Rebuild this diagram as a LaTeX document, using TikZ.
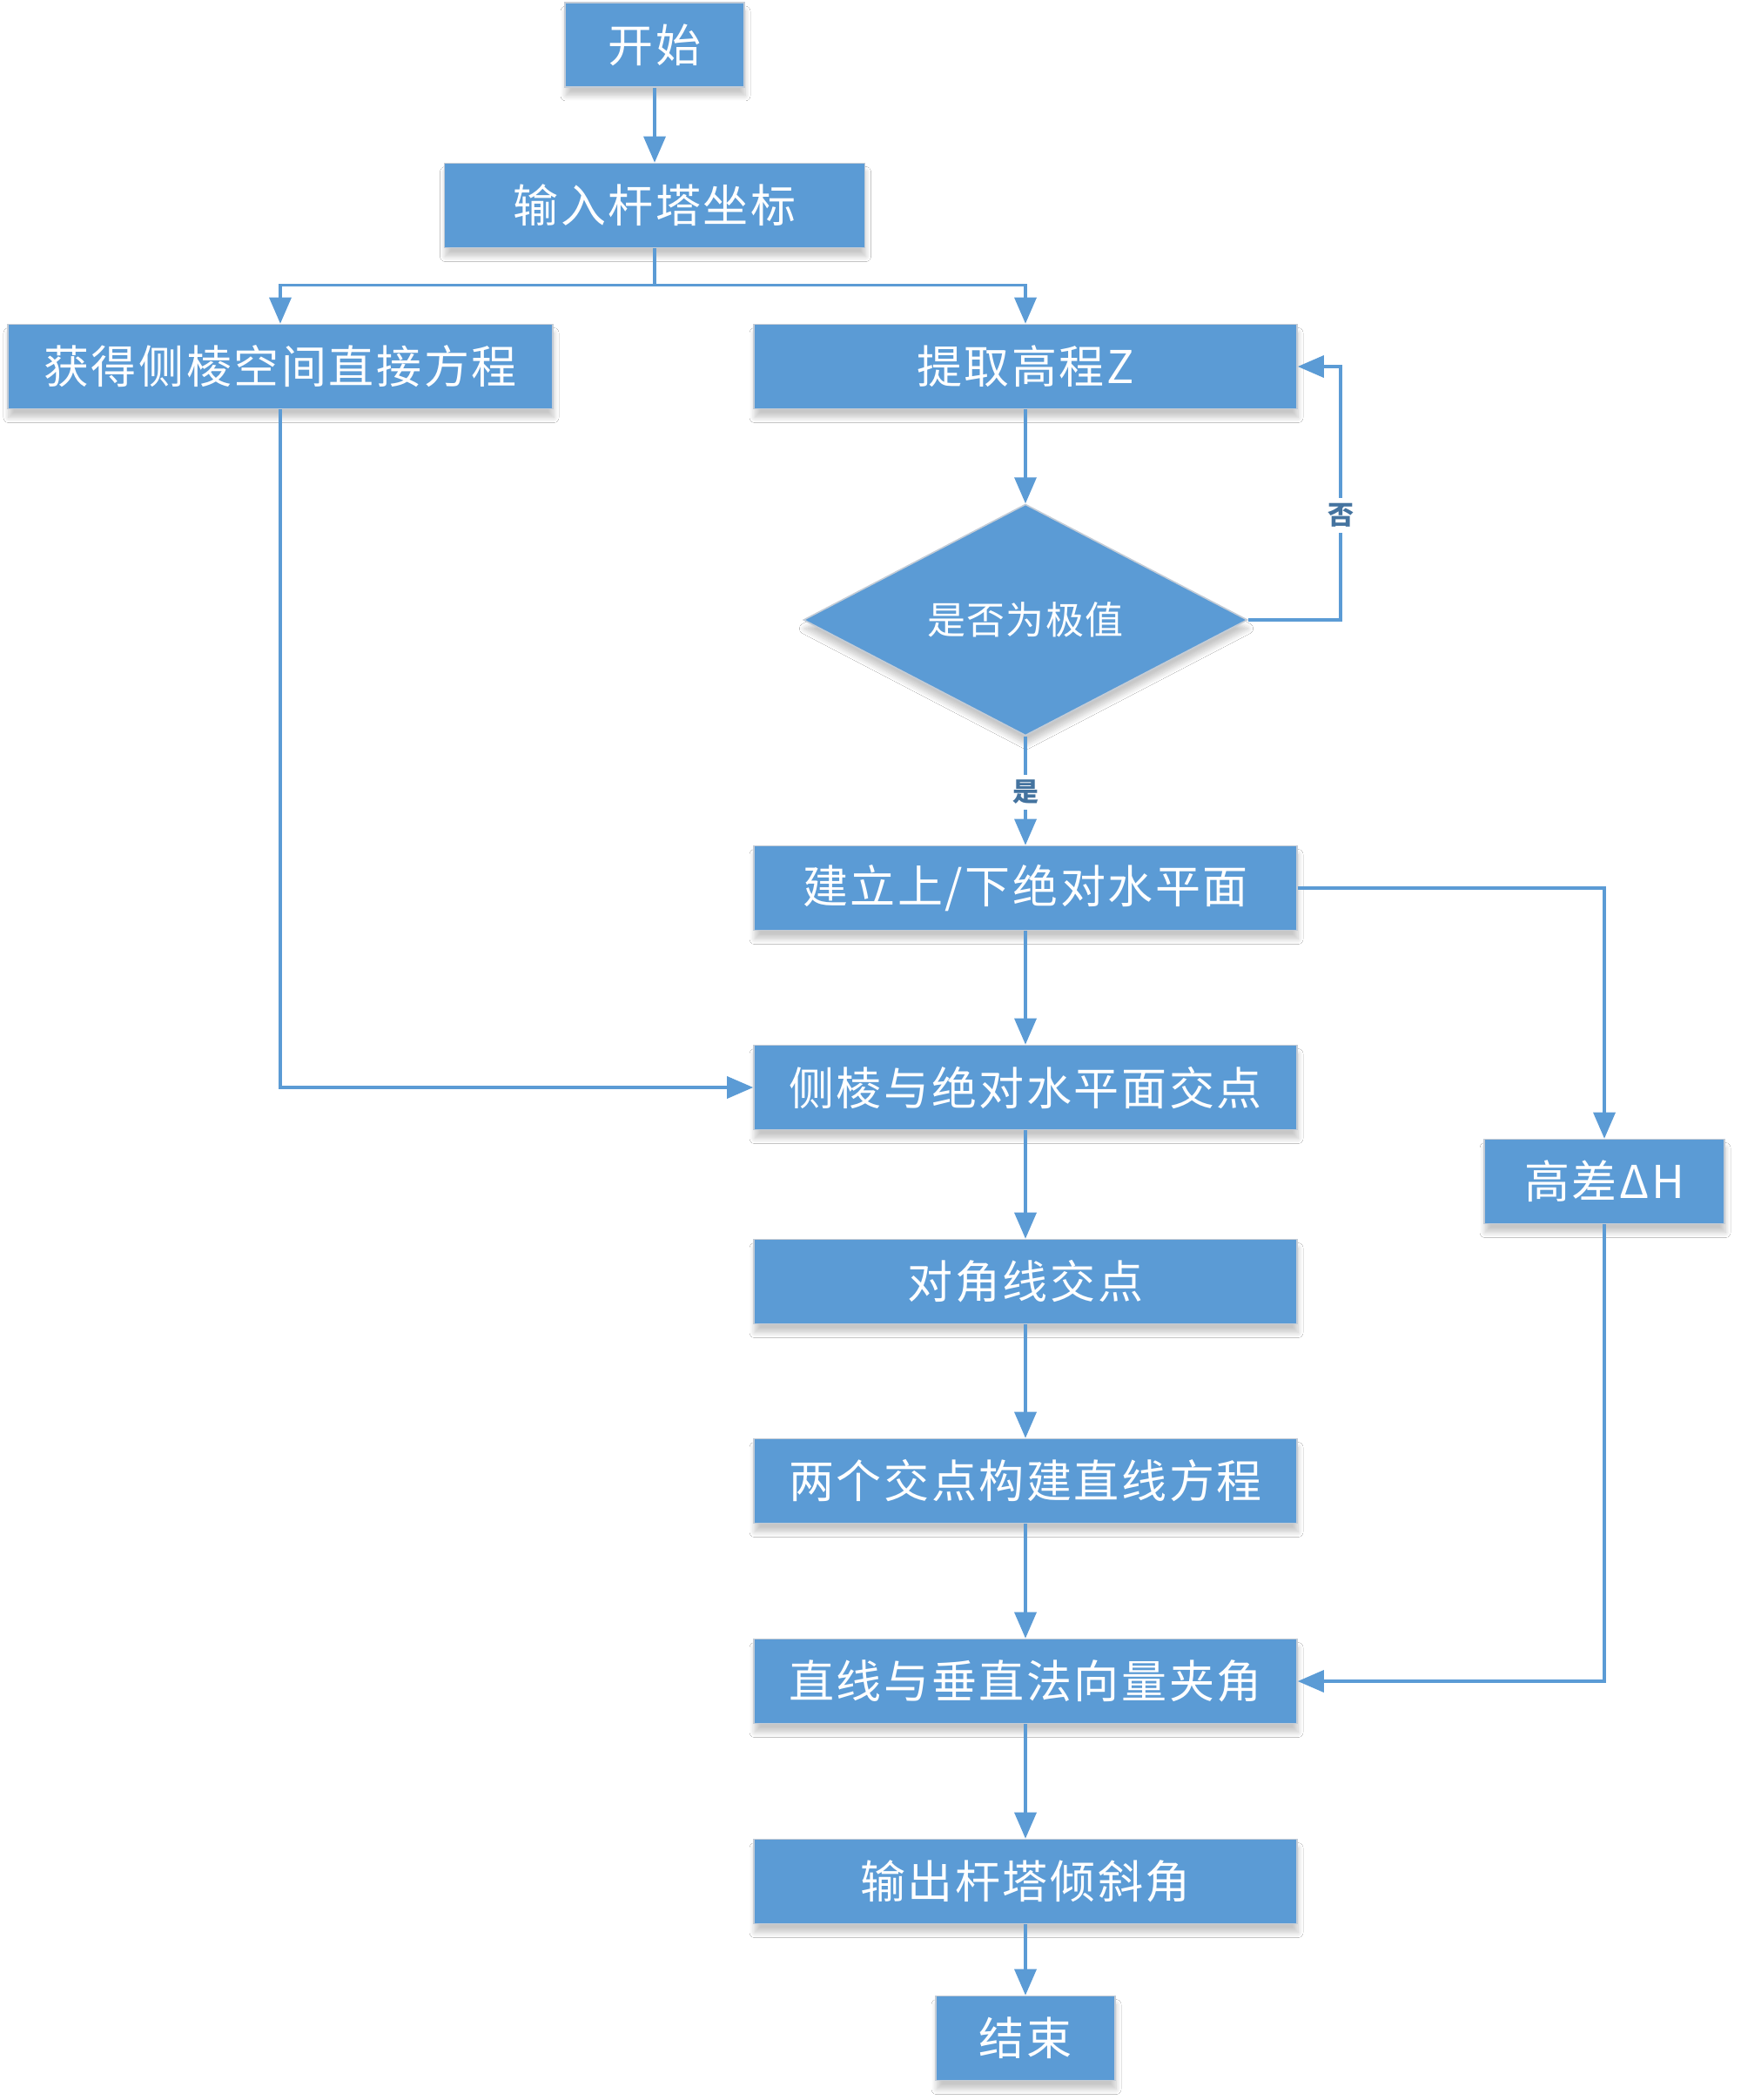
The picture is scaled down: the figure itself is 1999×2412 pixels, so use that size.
\documentclass[tikz,border=0pt]{standalone}
\usepackage{fontspec}
\setmainfont{Noto Sans CJK SC}
\usetikzlibrary{arrows.meta,shapes.geometric,shadows.blur}
\definecolor{boxblue}{HTML}{5B9BD5}
\definecolor{labblue}{HTML}{44739F}
\definecolor{boxedge}{HTML}{C4CCD6}
\begin{document}
\begin{tikzpicture}[x=0.5pt,y=-0.5pt,
  boxshadow/.style={blur shadow={shadow xshift=0.5pt,shadow yshift=-5pt,shadow blur steps=8,shadow opacity=22,shadow blur radius=3pt}},
  procbox/.style={rectangle,fill=boxblue,draw=boxedge,line width=0.8pt,text=white,inner sep=0pt,
    minimum height=48.5pt,font=\fontsize{26}{30}\selectfont\addfontfeature{LetterSpace=5},boxshadow},
  decbox/.style={diamond,fill=boxblue,draw=boxedge,line width=0.8pt,text=white,inner sep=0pt,
    minimum width=255pt,minimum height=132pt,font=\fontsize{22}{26}\selectfont\addfontfeature{LetterSpace=3},boxshadow},
  arr/.style={draw=boxblue,line width=1.7pt,-{Triangle[length=15pt,width=12.5pt]}},
  ln/.style={draw=boxblue,line width=1.7pt},
  lab/.style={fill=white,text=labblue,inner sep=3pt,font=\fontsize{15}{18}\selectfont\bfseries}
]
\useasboundingbox (0,0) rectangle (1999,2412);
\fill[white] (0,0) rectangle (1999,2412);

\node[procbox,minimum width=103pt] (start) at (752,51.5) {开始};
\node[procbox,minimum width=241.5pt] (input) at (752,236) {输入杆塔坐标};
\node[procbox,minimum width=313pt] (side) at (322,421) {获得侧棱空间直接方程};
\node[procbox,minimum width=312pt] (ext) at (1178,421) {提取高程Z};
\node[decbox] (dec) at (1178,712) {是否为极值};
\node[procbox,minimum width=312pt] (plane) at (1178,1020) {建立上/下绝对水平面};
\node[procbox,minimum width=312pt] (inter) at (1178,1249) {侧棱与绝对水平面交点};
\node[procbox,minimum width=312pt] (diag) at (1178,1472) {对角线交点};
\node[procbox,minimum width=312pt] (twoline) at (1178,1701) {两个交点构建直线方程};
\node[procbox,minimum width=312pt] (angle) at (1178,1931) {直线与垂直法向量夹角};
\node[procbox,minimum width=312pt] (out) at (1178,2161) {输出杆塔倾斜角};
\node[procbox,minimum width=103pt] (end) at (1178,2341) {结束};
\node[procbox,minimum width=138pt] (dh) at (1843,1357) {高差ΔH};

\coordinate (br) at (752,327.5);
\coordinate (loopx) at (1540,712);

\draw[arr] (start) -- (input);
\draw[ln] (input.south) -- (br);
\draw[arr] (br) -| (side.north);
\draw[arr] (br) -| (ext.north);
\draw[arr] (ext) -- (dec);
\draw[arr] (dec.east) -- (loopx) |- (ext.east);
\draw[arr] (dec.south) -- (plane.north);
\draw[arr] (plane) -- (inter);
\draw[arr] (plane.east) -| (dh.north);
\draw[arr] (side.south) |- (inter.west);
\draw[arr] (inter) -- (diag);
\draw[arr] (diag) -- (twoline);
\draw[arr] (twoline) -- (angle);
\draw[arr] (dh.south) |- (angle.east);
\draw[arr] (angle) -- (out);
\draw[arr] (out) -- (end);

\node[lab] (no) at (1540,592) {否};
\node[lab] (yes) at (1178,910) {是};
\end{tikzpicture}
\end{document}
